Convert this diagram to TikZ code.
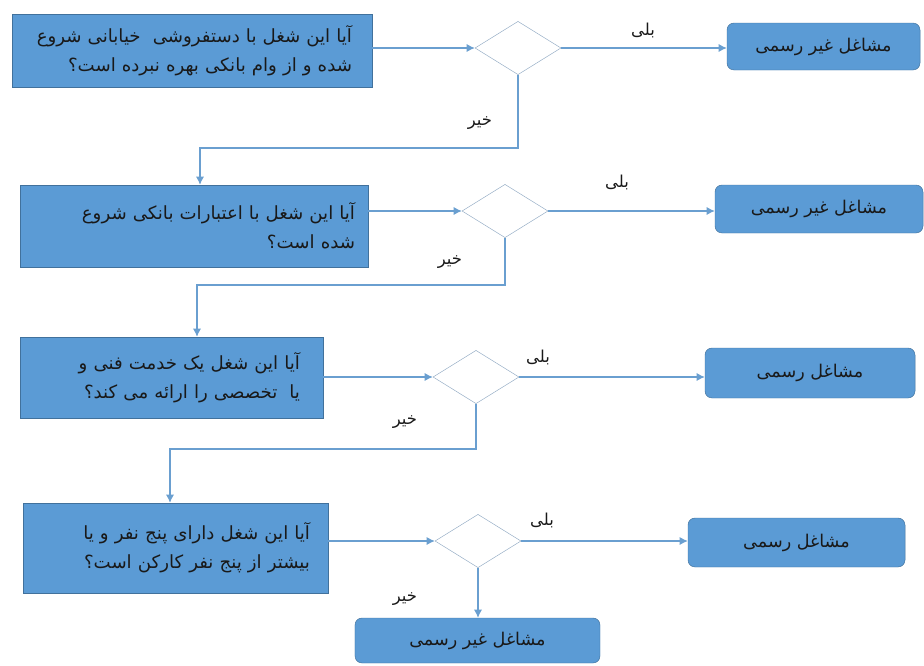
\documentclass[tikz,border=0pt]{standalone}
\usepackage{fontspec}
\usepackage{tikz}
\usetikzlibrary{arrows.meta}
\usetikzlibrary{shapes.geometric}
\TeXXeTstate=1
\newfontfamily\farsifont[Script=Arabic]{DejaVu Sans}
\definecolor{boxblue}{HTML}{5B9BD5}
\definecolor{boxedge}{HTML}{41719C}
\definecolor{lineblue}{HTML}{6A9FD0}
\definecolor{diaedge}{HTML}{93ABC4}

\begin{document}
\begin{tikzpicture}[x=0.03cm,y=-0.03cm,
		question/.style={rectangle,draw=boxedge,fill=boxblue,align=right,inner sep=0pt,font=\farsifont\fontsize{15.5}{25}\selectfont,text=black!90},
		answer/.style={rectangle,rounded corners=6pt,draw=boxedge,fill=boxblue,inner sep=0pt,font=\farsifont\fontsize{15}{18}\selectfont,text=black!90},
		choice/.style={diamond,draw=diaedge,fill=white,inner sep=0pt,minimum width=2.58cm,minimum height=1.6cm},
		flow/.style={draw=lineblue,line width=0.9pt,-{Latex[length=7pt,width=7pt]}},
		tag/.style={font=\farsifont\fontsize{14}{16}\selectfont,text=black!90}]
			\useasboundingbox (0,0) rectangle (924,665);
			
			% questions
			
			\node[question,minimum width=10.8cm,minimum height=2.19cm,text width=9.6cm] (Q1) at (192,50.5)
				{\beginR آیا این شغل با دستفروشی~ خیابانی شروع\endR\\\beginR شده و از وام بانکی بهره نبرده است؟\endR};
			\node[question,minimum width=10.44cm,minimum height=2.46cm,text width=9.66cm] (Q2) at (194,226)
				{\beginR آیا این شغل با اعتبارات بانکی شروع\endR\\\beginR شده است؟\endR};
			\node[question,minimum width=9.09cm,minimum height=2.43cm,text width=7.71cm] (Q3) at (171.5,377.5)
				{\beginR آیا این شغل یک خدمت فنی و\endR\\\beginR یا~ تخصصی را ارائه می کند؟\endR};
			\node[question,minimum width=9.15cm,minimum height=2.7cm,text width=8.07cm] (Q4) at (175.5,548)
				{\beginR آیا این شغل دارای پنج نفر و یا\endR\\\beginR بیشتر از پنج نفر کارکن است؟\endR};
			
			% decisions
			
			\node[choice] (D1) at (518,48) {};
			\node[choice] (D2) at (505,211) {};
			\node[choice] (D3) at (476,377) {};
			\node[choice] (D4) at (478,541) {};
			
			% answers
			
			\node[answer,minimum width=5.79cm,minimum height=1.41cm] (A1) at (823.5,46.5) {\beginR مشاغل غیر رسمی\endR};
			\node[answer,minimum width=6.24cm,minimum height=1.44cm] (A2) at (819,209) {\beginR مشاغل غیر رسمی\endR};
			\node[answer,minimum width=6.3cm,minimum height=1.5cm] (A3) at (810,373) {\beginR مشاغل رسمی\endR};
			\node[answer,minimum width=6.51cm,minimum height=1.47cm] (A4) at (796.5,542.5) {\beginR مشاغل رسمی\endR};
			\node[answer,minimum width=7.35cm,minimum height=1.35cm] (A5) at (477.5,640.5) {\beginR مشاغل غیر رسمی\endR};
			
			% yes
			
			\draw[flow] (Q1.east |- D1.west) -- (D1.west);
			\draw[flow] (Q2.east |- D2.west) -- (D2.west);
			\draw[flow] (Q3.east |- D3.west) -- (D3.west);
			\draw[flow] (Q4.east |- D4.west) -- (D4.west);
			\draw[flow] (D1.east) -- (D1.east -| A1.west);
			\draw[flow] (D2.east) -- (D2.east -| A2.west);
			\draw[flow] (D3.east) -- (D3.east -| A3.west);
			\draw[flow] (D4.east) -- (D4.east -| A4.west);
			\node[tag] (Y1) at (643,30) {\beginR بلی\endR};
			\node[tag] (Y2) at (617,182) {\beginR بلی\endR};
			\node[tag] (Y3) at (538,357) {\beginR بلی\endR};
			\node[tag] (Y4) at (542,520) {\beginR بلی\endR};
			
			% no
			
			\coordinate (K1) at (200,148);
			\coordinate (K2) at (197,285);
			\coordinate (K3) at (170,449);
			\draw[flow] (D1.south) |- (K1) -- (K1 |- Q2.north);
			\draw[flow] (D2.south) |- (K2) -- (K2 |- Q3.north);
			\draw[flow] (D3.south) |- (K3) -- (K3 |- Q4.north);
			\draw[flow] (D4.south) -- (D4.south |- A5.north);
			\node[tag] (N1) at (480,123) {\beginR خیر\endR};
			\node[tag] (N2) at (450,262) {\beginR خیر\endR};
			\node[tag] (N3) at (405,422) {\beginR خیر\endR};
			\node[tag] (N4) at (405,599) {\beginR خیر\endR};
			
		\end{tikzpicture}
\end{document}
